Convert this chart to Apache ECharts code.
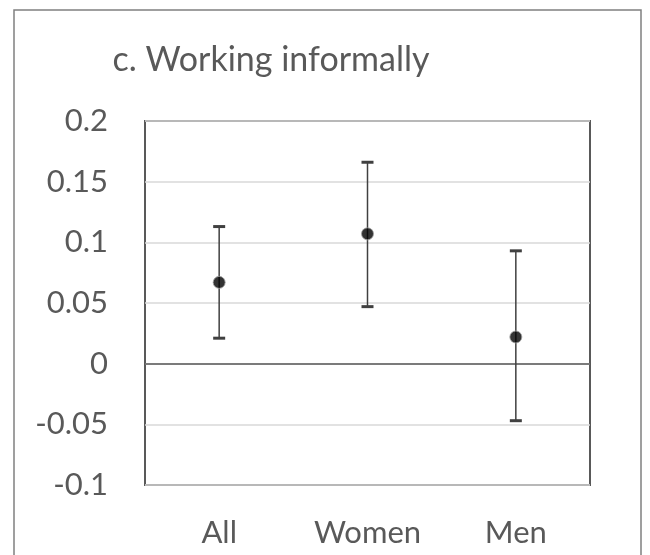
<!DOCTYPE html>
<html><head><meta charset="utf-8">
<script src="https://cdn.jsdelivr.net/npm/echarts@6/dist/echarts.min.js"></script>
<style>html,body{margin:0;padding:0;background:#fff}#c{width:650px;height:555px}</style>
</head><body><div id="c"></div>
<script>
const categories = ['All', 'Women', 'Men'];
const estimates = [0.067, 0.107, 0.022];
const upper = [0.113, 0.166, 0.093];
const lower = [0.021, 0.047, -0.047];
const titleText = 'c. Working informally';

const chart = echarts.init(document.getElementById('c'));
const FONT = 'Lato';
const errData = categories.map((c, i) => [i, lower[i], upper[i]]);
chart.setOption({
  animation: false,
  backgroundColor: '#fff',
  title: {
    text: titleText, left: 266, top: 38, textAlign: 'center',
    textStyle: { fontFamily: FONT, fontSize: 34, fontWeight: 'normal', color: '#595959' }
  },
  graphic: [{
    type: 'rect', shape: { x: 14, y: 10, width: 627, height: 600 },
    style: { fill: 'none', stroke: '#808080', lineWidth: 1.5 }, silent: true
  }],
  grid: { left: 145, top: 121, width: 445, height: 364, show: true, borderColor: '#595959', borderWidth: 2, backgroundColor: 'transparent' },
  xAxis: {
    type: 'category', data: categories,
    axisLine: { show: true, onZero: true, lineStyle: { color: '#595959', width: 1.5 } },
    axisTick: { show: false },
    axisLabel: { fontFamily: FONT, fontSize: 31, color: '#595959', margin: 32 }
  },
  yAxis: {
    type: 'value', min: -0.1, max: 0.2, interval: 0.05,
    axisLine: { show: false }, axisTick: { show: false },
    splitLine: { lineStyle: { color: '#d9d9d9', width: 1.5 } },
    axisLabel: { fontFamily: FONT, fontSize: 31, color: '#595959', margin: 37,
      formatter: v => String(Math.round(v * 100) / 100) }
  },
  series: [{
    type: 'custom',
    data: errData,
    z: 3,
    renderItem: function (params, api) {
      const x = api.value(0);
      const lo = api.coord([x, api.value(1)]);
      const hi = api.coord([x, api.value(2)]);
      const hw = 6;
      const st = { stroke: '#404040', lineWidth: 1.5, fill: null };
      return {
        type: 'group', children: [
          { type: 'line', shape: { x1: lo[0], y1: lo[1], x2: hi[0], y2: hi[1] }, style: st },
          { type: 'rect', shape: { x: hi[0] - hw, y: hi[1] - 1.5, width: hw * 2, height: 3 }, style: { fill: '#404040' } },
          { type: 'rect', shape: { x: lo[0] - hw, y: lo[1] - 1.5, width: hw * 2, height: 3 }, style: { fill: '#404040' } }
        ]
      };
    }
  }, {
    type: 'scatter', data: estimates, z: 5,
    symbol: 'circle', symbolSize: 12,
    itemStyle: { color: '#000', borderColor: '#a0a0a0', borderWidth: 1 }
  }]
});
</script></body></html>
